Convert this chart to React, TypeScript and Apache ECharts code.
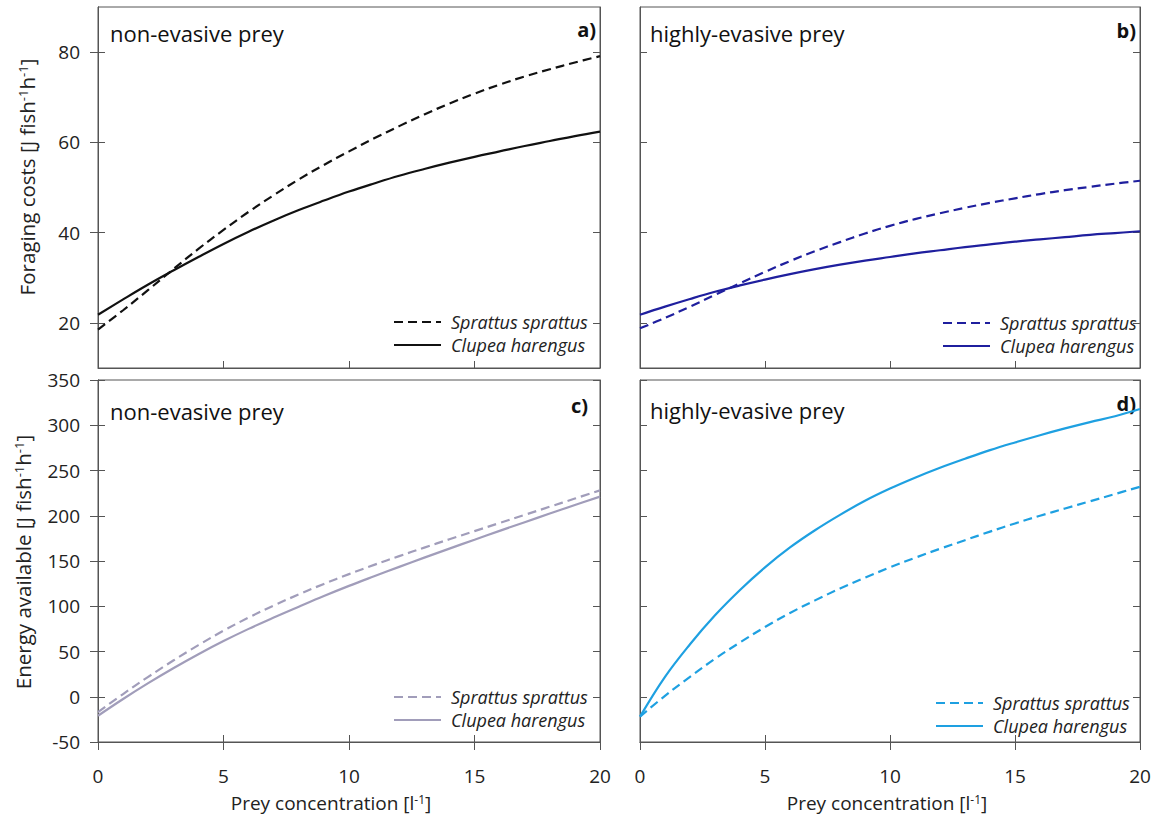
import React, { useEffect, useRef } from "react";
import * as echarts from "echarts";

const preyConc = [0, 1, 2, 3, 4, 5, 6, 7, 8, 9, 10, 11, 12, 13, 14, 15, 16, 17, 18, 19, 20];

const aSprattus = [18.5, 22.8, 27.3, 31.9, 36.4, 40.6, 44.6, 48.3, 51.8, 55.0, 58.0, 60.9, 63.6, 66.2, 68.6, 70.8, 72.8, 74.6, 76.2, 77.7, 79.1];
const aClupea = [21.8, 25.2, 28.5, 31.6, 34.6, 37.5, 40.2, 42.7, 45, 47.1, 49.1, 50.9, 52.6, 54.1, 55.5, 56.8, 58, 59.2, 60.3, 61.4, 62.4];
const bSprattus = [18.8, 21.1, 23.6, 26.2, 28.8, 31.3, 33.7, 35.9, 37.9, 39.8, 41.5, 43.0, 44.3, 45.5, 46.6, 47.6, 48.55, 49.4, 50.15, 50.85, 51.5];
const bClupea = [21.8, 23.6, 25.3, 26.9, 28.3, 29.6, 30.8, 31.9, 32.9, 33.8, 34.6, 35.4, 36.1, 36.8, 37.4, 38, 38.5, 39, 39.5, 39.9, 40.3];
const cSprattus = [-17, 3, 22, 40, 57, 73, 87.5, 100.8, 113.1, 124.7, 135.5, 145.7, 155.4, 164.8, 174, 183, 192, 201, 210, 219, 228];
const cClupea = [-21, -2.5, 15, 31.5, 47, 61.5, 75, 87.5, 99.5, 111.3, 122.5, 133.1, 143.5, 153.7, 163.7, 173.5, 183.3, 192.9, 202.4, 211.8, 221.1];
const dSprattus = [-22, 1, 22, 42, 60, 77, 92.5, 106.5, 119.5, 131.5, 143, 153.5, 163.5, 173, 182.5, 191.5, 200, 208, 216, 224, 232];
const dClupea = [-22, 22, 58, 90, 118, 143, 165, 184, 201, 216.5, 230, 242, 253, 263, 272.5, 281, 289, 296.5, 303.5, 310, 318];

const xTicks = [0, 5, 10, 15, 20];
const topYTicks = [20, 40, 60, 80];
const bottomYTicks = [-50, 0, 50, 100, 150, 200, 250, 300, 350];

const panelTitles = ["non-evasive prey", "highly-evasive prey", "non-evasive prey", "highly-evasive prey"];
const panelLetters = ["a)", "b)", "c)", "d)"];
const speciesNames = ["Sprattus sprattus", "Clupea harengus"];
const colors = ["#111111", "#1f1f9e", "#a19dba", "#1ea0e1"];

const FONT = "'Open Sans', sans-serif";
const AXIS_COLOR = "#555";

export default function App() {
  const ref = useRef<HTMLDivElement>(null);

  useEffect(() => {
    if (!ref.current) return;
    const chart = echarts.init(ref.current, undefined, { renderer: "svg" });

    const grids = [
      { left: 98, top: 7, width: 502, height: 361 },
      { left: 640, top: 7, width: 500, height: 361 },
      { left: 98, top: 380, width: 502, height: 362 },
      { left: 640, top: 380, width: 500, height: 362 },
    ].map((g) => ({ ...g, show: true, borderColor: AXIS_COLOR, borderWidth: 1, backgroundColor: "transparent" }));

    const lineAxis = { show: true, onZero: false, lineStyle: { color: AXIS_COLOR, width: 1 } };
    const tickStyle = { color: AXIS_COLOR, width: 1 };
    const labelStyle = { color: "#222", fontSize: 19, fontFamily: FONT };

    const xBase = (grid: number) => ({
      type: "value" as const,
      gridIndex: grid,
      min: 0,
      max: 20,
      interval: 5,
      position: "bottom",
      splitLine: { show: false },
      axisLine: lineAxis,
    });

    const xAxes = [
      { ...xBase(0), axisLabel: { show: false }, axisTick: { inside: true, length: 7, lineStyle: tickStyle } },
      { ...xBase(1), axisLabel: { show: false }, axisTick: { inside: true, length: 7, lineStyle: tickStyle } },
      { ...xBase(2), axisLabel: { ...labelStyle, margin: 24, customValues: xTicks }, axisTick: { inside: false, length: 8, lineStyle: tickStyle } },
      { ...xBase(2), axisLabel: { show: false }, axisTick: { inside: true, length: 7, lineStyle: tickStyle } },
      { ...xBase(3), axisLabel: { ...labelStyle, margin: 24, customValues: xTicks }, axisTick: { inside: false, length: 8, lineStyle: tickStyle } },
      { ...xBase(3), axisLabel: { show: false }, axisTick: { inside: true, length: 7, lineStyle: tickStyle } },
    ];

    const yTop = (grid: number, pos: string, inside: boolean, labels: boolean) => ({
      type: "value" as const,
      gridIndex: grid,
      min: 10,
      max: 90,
      position: pos,
      splitLine: { show: false },
      axisLine: lineAxis,
      axisTick: { inside, length: inside ? 7 : 8, lineStyle: tickStyle, customValues: topYTicks },
      axisLabel: labels ? { ...labelStyle, margin: 18, customValues: topYTicks } : { show: false },
    });
    const yBottom = (grid: number, pos: string, inside: boolean, labels: boolean) => ({
      type: "value" as const,
      gridIndex: grid,
      min: -50,
      max: 350,
      interval: 50,
      position: pos,
      splitLine: { show: false },
      axisLine: lineAxis,
      axisTick: { inside, length: inside ? 7 : 8, lineStyle: tickStyle },
      axisLabel: labels ? { ...labelStyle, margin: 18, customValues: bottomYTicks } : { show: false },
    });

    const yAxes = [
      yTop(0, "left", false, true), // 0
      yTop(0, "left", true, false), // 1
      yTop(0, "right", true, false), // 2
      yTop(1, "left", true, false), // 3
      yTop(1, "right", true, false), // 4
      yBottom(2, "left", false, true), // 5
      yBottom(2, "left", true, false), // 6
      yBottom(2, "right", true, false), // 7
      yBottom(3, "left", true, false), // 8
      yBottom(3, "right", true, false), // 9
    ];

    const panelData = [
      [aSprattus, aClupea],
      [bSprattus, bClupea],
      [cSprattus, cClupea],
      [dSprattus, dClupea],
    ];
    const xIdx = [0, 1, 2, 4];
    const yIdx = [0, 3, 5, 8];
    const keys = ["a", "b", "c", "d"];

    const series: any[] = [];
    panelData.forEach((pair, p) => {
      pair.forEach((vals, s) => {
        series.push({
          type: "line",
          name: `${keys[p]} ${speciesNames[s]}`,
          xAxisIndex: xIdx[p],
          yAxisIndex: yIdx[p],
          data: preyConc.map((x, i) => [x, vals[i]]),
          smooth: 0.4,
          symbol: "none",
          showSymbol: false,
          lineStyle: { color: colors[p], width: 2.2, type: s === 0 ? [9, 5] : "solid" },
          itemStyle: { color: colors[p] },
          z: s === 0 ? 3 : 2,
        });
      });
    });

    const legendPos = [
      { left: 393, top: 313 },
      { left: 942, top: 314 },
      { left: 393, top: 688 },
      { left: 935, top: 694 },
    ];
    const legends = keys.map((k, p) => ({
      data: speciesNames.map((n) => `${k} ${n}`),
      ...legendPos[p],
      padding: 0,
      orient: "vertical",
      itemWidth: 47,
      itemHeight: 12,
      itemGap: 5,
      selectedMode: false,
      formatter: (n: string) => n.slice(2),
      itemStyle: { opacity: 0, color: "rgba(0,0,0,0)", borderWidth: 0 },
      textStyle: { fontStyle: "italic", fontSize: 18, color: "#222", fontFamily: FONT, padding: [0, 0, 0, 5] },
    }));

    const titlePos = [
      [110, 33],
      [650, 33],
      [110, 411],
      [650, 410],
    ];
    const letterPos = [
      [596, 29],
      [1136, 30],
      [588, 405],
      [1136, 403],
    ];

    const graphics: any[] = [];
    panelTitles.forEach((t, i) => {
      graphics.push({
        type: "text",
        x: titlePos[i][0],
        y: titlePos[i][1],
        style: { text: t, fontSize: 22, fontFamily: FONT, fill: "#111", verticalAlign: "middle" },
      });
      graphics.push({
        type: "text",
        x: letterPos[i][0],
        y: letterPos[i][1],
        style: { text: panelLetters[i], fontSize: 20, fontWeight: "bold", fontFamily: FONT, fill: "#111", align: "right", verticalAlign: "middle" },
      });
    });

    const richY = {
      n: { fontSize: 20.5, fontFamily: FONT, fill: "#222", color: "#222" },
      s: { fontSize: 13, fontFamily: FONT, fill: "#222", color: "#222", verticalAlign: "top", padding: [0, 0, 8, 0] },
    };
    const richX = {
      n: { fontSize: 19, fontFamily: FONT, fill: "#222", color: "#222" },
      s: { fontSize: 12, fontFamily: FONT, fill: "#222", color: "#222", verticalAlign: "top", padding: [0, 0, 8, 0] },
    };

    graphics.push({
      type: "text",
      x: 27,
      y: 177,
      rotation: Math.PI / 2,
      style: { text: "{n|Foraging costs [J fish}{s|-1}{n|h}{s|-1}{n|]}", rich: richY, align: "center", verticalAlign: "middle" },
    });
    graphics.push({
      type: "text",
      x: 23,
      y: 562,
      rotation: Math.PI / 2,
      style: { text: "{n|Energy available [J fish}{s|-1}{n|h}{s|-1}{n|]}", rich: richY, align: "center", verticalAlign: "middle" },
    });
    graphics.push({
      type: "text",
      x: 331,
      y: 803,
      style: { text: "{n|Prey concentration [l}{s|-1}{n|]}", rich: richX, align: "center", verticalAlign: "middle" },
    });
    graphics.push({
      type: "text",
      x: 887,
      y: 803,
      style: { text: "{n|Prey concentration [l}{s|-1}{n|]}", rich: richX, align: "center", verticalAlign: "middle" },
    });

    chart.setOption({
      animation: false,
      backgroundColor: "#ffffff",
      textStyle: { fontFamily: FONT },
      grid: grids,
      xAxis: xAxes,
      yAxis: yAxes,
      legend: legends,
      series,
      graphic: graphics,
    });

    return () => chart.dispose();
  }, []);

  return <div ref={ref} style={{ position: "absolute", left: 0, top: 0, width: 1157, height: 818 }} />;
}
